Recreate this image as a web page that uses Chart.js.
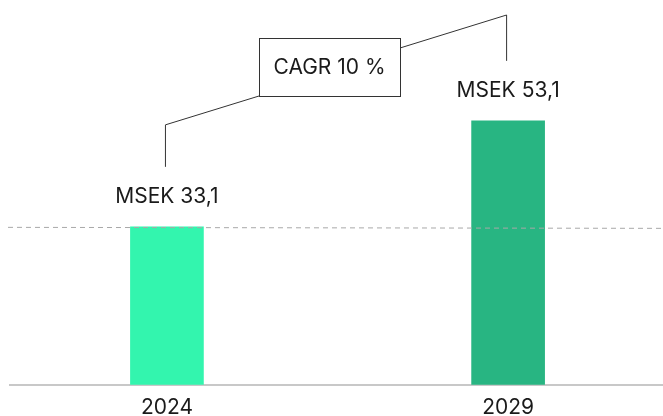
<!DOCTYPE html>
<html>
<head>
<meta charset="utf-8">
<script src="https://cdn.jsdelivr.net/npm/chart.js@4/dist/chart.umd.min.js"></script>
<style>
  html, body { margin: 0; padding: 0; background: #fff; }
  #wrap { width: 663px; height: 416px; }
</style>
</head>
<body>
<div id="wrap"><canvas id="grafik"></canvas></div>
<script>
// data
const years = [2024, 2029];
const values = [33.1, 53.1];
const valueLabels = ['MSEK 33,1', 'MSEK 53,1'];
const cagrText = 'CAGR 10 %';
const barColors = ['#33f5ae', '#28b582'];

const FONT = 'Inter, "Noto Sans", sans-serif';

// dashed reference line + value labels + CAGR box
const annotations = {
    id: 'annotations',
    afterDatasetsDraw(chart) {
        const ctx = chart.ctx;
        const area = chart.chartArea;
        const yScale = chart.scales.y;
        const bars = chart.getDatasetMeta(0).data;

        // dashed line at 2024 level
        const yRef = yScale.getPixelForValue(values[0]);
        ctx.save();
        ctx.strokeStyle = '#a8a8a8';
        ctx.lineWidth = 1;
        ctx.setLineDash([5, 4]);
        ctx.beginPath();
        ctx.moveTo(area.left - 2, yRef + 0.5);
        ctx.lineTo(area.right, yRef + 1.5);
        ctx.stroke();
        ctx.restore();

        // value labels
        ctx.save();
        ctx.fillStyle = '#1a1a1a';
        ctx.font = '21px ' + FONT;
        ctx.textAlign = 'center';
        ctx.textBaseline = 'middle';
        bars.forEach((b, i) => {
            ctx.fillText(valueLabels[i], b.x, b.y - 30);
        });
        ctx.restore();

        // CAGR box and connectors
        const x1 = bars[0].x - 2, y1 = bars[0].y - 60;
        const x2 = bars[1].x - 2, y2 = bars[1].y - 60;
        const bx = 259, by = 38, bw = 141, bh = 58;
        ctx.save();
        ctx.strokeStyle = '#333';
        ctx.lineWidth = 1;
        ctx.beginPath();
        ctx.moveTo(x1 + 0.5, y1);
        ctx.lineTo(x1 + 0.5, y1 - 42);
        ctx.lineTo(bx, by + bh);
        ctx.moveTo(bx + bw, by + 10);
        ctx.lineTo(x2 + 0.5, 15);
        ctx.lineTo(x2 + 0.5, y2);
        ctx.stroke();
        ctx.fillStyle = '#fff';
        ctx.fillRect(bx, by, bw, bh);
        ctx.strokeRect(bx + 0.5, by + 0.5, bw, bh);
        ctx.fillStyle = '#1a1a1a';
        ctx.font = '21px ' + FONT;
        ctx.textAlign = 'center';
        ctx.textBaseline = 'middle';
        ctx.fillText(cagrText, bx + bw / 2, by + bh / 2 + 1);
        ctx.restore();
    }
};

const ctxGrafik = document.getElementById('grafik').getContext('2d');
const grafik = new Chart(ctxGrafik, {
    type: 'bar',
    data: {
        datasets: [{
            data: years.map((y, i) => ({ x: y, y: values[i] })),
            backgroundColor: barColors,
            borderWidth: 0,
            barThickness: 73
        }]
    },
    options: {
        responsive: true,
        maintainAspectRatio: false,
        animation: false,
        layout: { padding: { left: 10, right: 0, top: 0, bottom: -14 } },
        plugins: {
            legend: { display: false },
            tooltip: { enabled: false }
        },
        scales: {
            x: {
                type: 'linear',
                offset: false,
                bounds: 'data',
                min: 2021.7,
                max: 2031.27,
                afterBuildTicks: (axis) => { axis.ticks = years.map(v => ({ value: v })); },
                ticks: {
                    callback: (v) => String(v),
                    color: '#1a1a1a',
                    font: { size: 21, family: FONT },
                    padding: 10,
                    autoSkip: false,
                    maxRotation: 0
                },
                grid: { display: false, drawTicks: false },
                border: { color: '#c8c8c8', width: 2 }
            },
            y: {
                display: false,
                min: 3.3,
                max: 75.9
            }
        }
    },
    plugins: [annotations]
});
</script>
</body>
</html>
